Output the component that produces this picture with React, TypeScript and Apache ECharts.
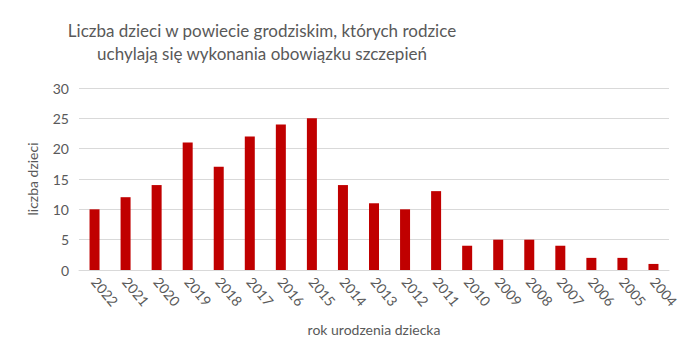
import React, { useEffect, useRef } from "react";
import * as echarts from "echarts";

const categories = ["2022","2021","2020","2019","2018","2017","2016","2015","2014","2013","2012","2011","2010","2009","2008","2007","2006","2005","2004"];
const values = [10,12,14,21,17,22,24,25,14,11,10,13,4,5,5,4,2,2,1];
const titleLines = ["Liczba dzieci w powiecie grodziskim, których rodzice", "uchylają się wykonania obowiązku szczepień"];

export default function App() {
  const ref = useRef<HTMLDivElement>(null);
  useEffect(() => {
    const chart = echarts.init(ref.current!, undefined, { renderer: "svg" });
    const font = "Lato, 'Open Sans', sans-serif";
    chart.setOption({
      animation: false,
      backgroundColor: "#ffffff",
      graphic: [
        {
          type: "text",
          x: 262,
          y: 19,
          style: {
            text: titleLines.join("\n"),
            align: "center",
            verticalAlign: "top",
            fill: "#595959",
            fontSize: 17,
            fontFamily: font,
            lineHeight: 23,
          },
        },
      ],
      grid: { left: 79, right: 19, top: 88, bottom: 88 },
      xAxis: {
        type: "category",
        data: categories,
        name: "rok urodzenia dziecka",
        nameLocation: "middle",
        nameGap: 52,
        nameTextStyle: { color: "#595959", fontSize: 14, fontFamily: font },
        axisLine: { lineStyle: { color: "#d9d9d9" } },
        axisTick: { show: false },
        axisLabel: { rotate: -50, color: "#595959", fontSize: 14, fontFamily: font, margin: 9 },
      },
      yAxis: {
        type: "value",
        min: 0,
        max: 30,
        interval: 5,
        name: "liczba dzieci",
        nameLocation: "middle",
        nameGap: 40,
        nameTextStyle: { color: "#595959", fontSize: 14, fontFamily: font },
        axisLabel: { color: "#595959", fontSize: 14, fontFamily: font, margin: 10 },
        splitLine: { lineStyle: { color: "#d9d9d9" } },
      },
      series: [
        {
          type: "bar",
          data: values,
          barWidth: 10,
          itemStyle: { color: "#C00000" },
        },
      ],
    });
    return () => chart.dispose();
  }, []);
  return <div ref={ref} style={{ width: 688, height: 358, margin: -8 }} />;
}
